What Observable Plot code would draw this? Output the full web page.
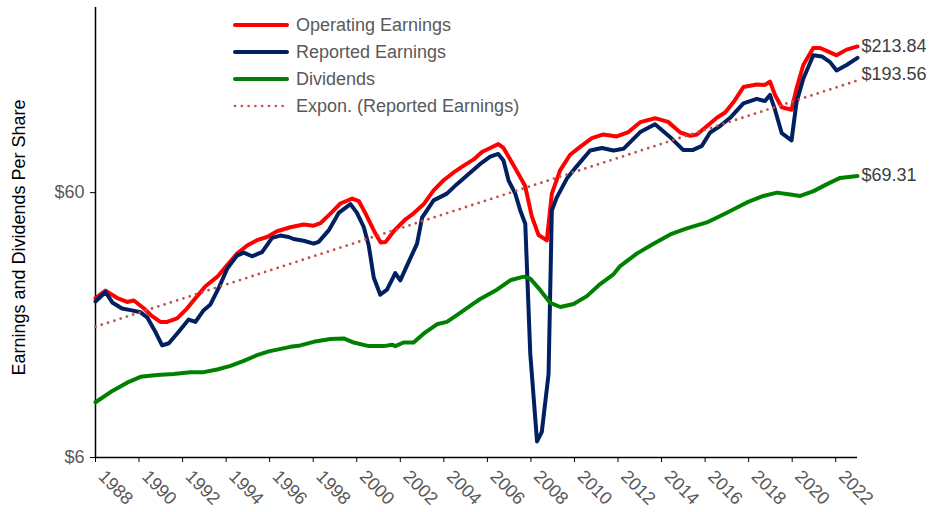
<!DOCTYPE html>
<html><head><meta charset="utf-8">
<script src="https://cdn.jsdelivr.net/npm/d3@7"></script>
<script src="https://cdn.jsdelivr.net/npm/@observablehq/plot@0.6"></script>
<style>
body{margin:0;background:#fff;font-family:"Liberation Sans",Arial,sans-serif;}
#wrap{position:relative;width:930px;height:512px;}
#legend{position:absolute;left:232px;top:11px;font-size:18px;color:#595959;line-height:1;}
.row{display:flex;align-items:center;height:27px;white-space:nowrap;}
.row svg{margin-right:6px;}
svg g[aria-label="y-axis tick label"], svg g[aria-label="x-axis tick label"]{fill:#595959;}
</style></head><body>
<div id="wrap"><div id="chart"></div><div id="legend"></div></div>
<script>
// ---- Data (per-share values, fractional years) ----
const operatingYears = [1988.00,1988.46,1989.00,1989.45,1989.76,1990.20,1990.60,1990.98,1991.29,1991.75,1992.20,1992.67,1993.05,1993.60,1994.05,1994.50,1994.97,1995.42,1995.88,1996.34,1996.95,1997.56,1998.02,1998.33,1998.79,1999.25,1999.79,2000.10,2000.40,2000.80,2001.10,2001.33,2001.70,2002.24,2002.60,2003.07,2003.53,2003.99,2004.45,2004.90,2005.37,2005.75,2006.13,2006.50,2006.74,2007.20,2007.73,2008.04,2008.35,2008.73,2008.96,2009.34,2009.80,2010.26,2010.80,2011.33,2011.94,2012.48,2013.02,2013.70,2014.30,2014.86,2015.32,2015.62,2016.08,2016.54,2016.92,2017.30,2017.76,2018.37,2018.75,2018.98,2019.21,2019.52,2019.97,2020.20,2020.51,2020.97,2021.28,2021.74,2022.04,2022.50,2023.00];
const operatingEps = [24.0,25.6,24.0,23.2,23.5,22.0,20.5,19.5,19.5,20.1,21.9,24.4,26.6,28.9,32.0,35.3,37.9,39.7,40.8,42.9,44.4,45.5,45.0,46.0,50.0,54.6,57.0,55.7,50.1,42.9,38.9,39.1,42.9,47.6,50.0,54.2,61.2,66.8,71.5,75.7,80.1,85.4,88.5,91.5,88.5,76.2,63.7,48.8,41.5,39.6,59.5,72.8,83.4,89.3,96.3,99.5,97.8,101.6,110.7,114.6,111.0,101.2,98.3,99.5,106.8,115.0,120.4,131.6,150.2,153.6,153.0,157.6,140.3,126.0,123.4,148.3,182.0,211.0,211.0,203.0,198.0,208.0,213.84];

const reportedYears = [1988.00,1988.46,1988.77,1989.22,1989.61,1990.07,1990.37,1990.75,1991.06,1991.37,1991.82,1992.28,1992.59,1992.97,1993.28,1993.66,1994.05,1994.50,1994.81,1995.19,1995.65,1996.11,1996.49,1996.87,1997.10,1997.56,1998.02,1998.25,1998.71,1999.17,1999.71,2000.01,2000.32,2000.55,2000.78,2001.08,2001.39,2001.77,2002.00,2002.38,2002.77,2003.00,2003.53,2004.14,2004.60,2005.14,2005.67,2006.13,2006.50,2006.74,2006.97,2007.28,2007.51,2007.74,2007.97,2008.28,2008.50,2008.81,2008.96,2009.19,2009.65,2010.10,2010.72,2011.26,2011.79,2012.25,2013.02,2013.70,2014.36,2014.99,2015.45,2015.85,2016.23,2016.69,2017.15,2017.76,2018.37,2018.75,2018.98,2019.21,2019.52,2019.97,2020.20,2020.51,2020.97,2021.36,2021.74,2022.04,2022.50,2023.00];
const reportedEps = [23.3,25.3,23.1,21.9,21.6,21.2,20.3,17.9,15.9,16.2,17.9,19.9,19.5,21.6,22.7,26.2,31.0,34.7,35.6,34.5,35.8,40.5,41.3,40.8,40.1,39.5,38.5,39.1,43.2,50.3,54.3,50.3,44.5,37.9,28.7,24.7,25.8,29.8,28.0,32.8,38.5,48.3,56.1,59.5,64.6,70.6,77.0,82.0,84.0,79.4,66.8,59.5,51.4,45.8,14.8,6.9,7.5,12.4,51.4,57.6,67.8,75.4,86.6,88.5,86.6,87.8,101.6,108.8,97.8,87.0,87.0,90.1,101.2,107.1,115.0,130.4,135.6,133.0,140.3,123.4,100.6,94.5,131.6,161.4,198.0,196.0,186.6,173.6,182.0,193.56];

const dividendYears = [1988.00,1988.69,1989.45,1990.07,1990.83,1991.59,1992.36,1992.97,1993.59,1994.20,1994.81,1995.42,1995.96,1996.95,1997.41,1998.02,1998.79,1999.40,1999.86,2000.55,2001.24,2001.62,2001.77,2002.15,2002.61,2003.07,2003.68,2004.14,2004.75,2005.37,2005.67,2006.44,2007.05,2007.67,2007.97,2008.43,2008.89,2009.35,2009.96,2010.57,2011.18,2011.79,2012.10,2012.86,2013.63,2014.40,2015.16,2016.08,2017.00,2017.92,2018.68,2019.30,2019.91,2020.37,2020.98,2021.60,2022.20,2023.00];
const dividendsPerShare = [9.7,10.6,11.5,12.1,12.3,12.4,12.6,12.6,12.9,13.3,13.9,14.6,15.1,15.7,15.9,16.4,16.8,16.9,16.3,15.8,15.8,16.0,15.8,16.3,16.3,17.6,19.1,19.5,21.1,22.9,23.8,25.8,28.0,28.9,28.4,25.7,23.0,22.2,22.8,24.4,27.1,29.5,31.7,35.3,38.5,41.7,44.0,46.3,50.4,55.1,58.3,60.0,59.0,58.3,60.8,64.6,68.2,69.31];

// Exponential trendline of reported earnings (end points)
const trendYears = [1988, 2023];
const trendValues = [18.7, 159];

const yearTicks = [1988,1990,1992,1994,1996,1998,2000,2002,2004,2006,2008,2010,2012,2014,2016,2018,2020,2022];
const valueTicks = [6, 60];
const seriesNames = ["Operating Earnings","Reported Earnings","Dividends","Expon. (Reported Earnings)"];
const yTitle = "Earnings and Dividends Per Share";

// ---- Build tables ----
const toRows = (xs, vs) => xs.map((t, i) => ({t, v: vs[i]}));
const operating = toRows(operatingYears, operatingEps);
const reported = toRows(reportedYears, reportedEps);
const dividends = toRows(dividendYears, dividendsPerShare);
const trend = toRows(trendYears, trendValues);
const last = a => [a[a.length - 1]];
const money = d => "$" + d3.format(".2f")(d.v);

const RED = "#FF0000", NAVY = "#002060", GREEN = "#008000", TREND = "#C0504D";

const chart = Plot.plot({
  width: 930, height: 512,
  marginLeft: 95, marginRight: 73, marginTop: 7, marginBottom: 55,
  style: {fontFamily: '"Liberation Sans", Arial, sans-serif', fontSize: "18px", background: "#fff", color: "#000"},
  x: {domain: [1988, 2023]},
  y: {type: "log", domain: [6, 300], ticks: valueTicks, tickFormat: d => "$" + d, tickSize: 5, tickPadding: 6, label: null},
  marks: [
    Plot.axisX({ticks: yearTicks, tickSize: 5, tickFormat: () => "", label: null, stroke: "#000"}),
    Plot.axisX({ticks: yearTicks, tickSize: 0, tickRotate: 45, tickPadding: 14, dx: 6, dy: 2, tickFormat: d => String(d), label: null, fill: "#595959"}),
    Plot.ruleX([1988], {stroke: "#000", strokeWidth: 1.5}),
    Plot.ruleY([6], {stroke: "#000", strokeWidth: 1.5}),
    Plot.line(operating, {x: "t", y: "v", stroke: RED, strokeWidth: 4, strokeLinejoin: "round"}),
    Plot.line(reported, {x: "t", y: "v", stroke: NAVY, strokeWidth: 4, strokeLinejoin: "round"}),
    Plot.line(dividends, {x: "t", y: "v", stroke: GREEN, strokeWidth: 4, strokeLinejoin: "round"}),
    Plot.line(trend, {x: "t", y: "v", stroke: TREND, strokeWidth: 2.8, strokeDasharray: "0,6.6", strokeLinecap: "round"}),
    Plot.text(last(operating), {x: "t", y: "v", text: money, textAnchor: "start", dx: 4, dy: 0, fill: "#404040", fontSize: 18}),
    Plot.text(last(reported), {x: "t", y: "v", text: money, textAnchor: "start", dx: 4, dy: 16, fill: "#404040", fontSize: 18}),
    Plot.text(last(dividends), {x: "t", y: "v", text: money, textAnchor: "start", dx: 4, dy: -1, fill: "#404040", fontSize: 18}),
    Plot.text([yTitle], {frameAnchor: "left", text: d => d, rotate: -90, textAnchor: "middle", dx: -76, dy: 5, fill: "#000", fontSize: 18})
  ]
});
document.getElementById("chart").appendChild(chart);

// ---- Legend (inside the plot area, as in the reference) ----
const legendStyles = [
  {stroke: RED, width: 4, dash: null},
  {stroke: NAVY, width: 4, dash: null},
  {stroke: GREEN, width: 4, dash: null},
  {stroke: TREND, width: 2.6, dash: "0,6.8"}
];
const legend = document.getElementById("legend");
seriesNames.forEach((name, i) => {
  const s = legendStyles[i];
  const row = document.createElement("div");
  row.className = "row";
  row.innerHTML = `<svg width="58" height="10"><line x1="3" x2="55" y1="5" y2="5" stroke="${s.stroke}" stroke-width="${s.width}" stroke-linecap="round" ${s.dash ? `stroke-dasharray="${s.dash}"` : ""}/></svg><span>${name}</span>`;
  legend.appendChild(row);
});
</script>
</body></html>
